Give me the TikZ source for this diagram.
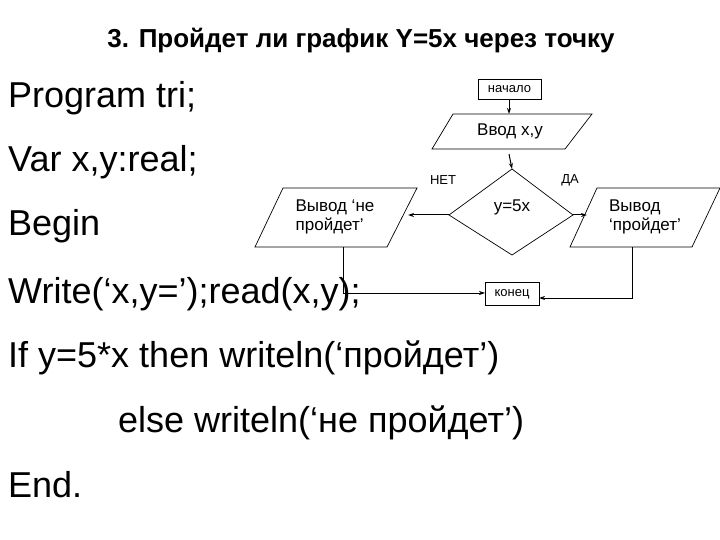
\documentclass[tikz,border=0pt]{standalone}
\usepackage{fontspec}
\setmainfont{Liberation Sans}
\usetikzlibrary{arrows.meta}
\begin{document}
\begin{tikzpicture}[x=1pt,y=-1pt,
  code/.style={anchor=base west,inner sep=0pt,font=\fontsize{36}{38}\selectfont},
  lbl/.style={inner sep=0pt,align=left,font=\fontsize{17}{19}\selectfont},
  sm/.style={inner sep=0pt,font=\fontsize{13}{15}\selectfont},
  box/.style={draw,line width=0.7pt},
  arr/.style={-{Stealth[length=6pt,width=4pt]},line width=1pt},
  ln/.style={line width=0.7pt}]
\useasboundingbox (0,0) rectangle (720,540);
\node[anchor=base,inner sep=0pt,font=\fontsize{26}{28}\selectfont\bfseries] (title) at (361,48) {3. Пройдет ли график Y=5x через точку};
\node[code] (c1) at (8,108) {Program tri;};
\node[code] (c2) at (8,172) {Var x,y:real;};
\node[code] (c3) at (8,236) {Begin};
\node[code] (c4) at (8,303) {Write(‘x,y=’);read(x,y);};
\node[code] (c5) at (8,367) {If y=5*x then writeln(‘пройдет’)};
\node[code] (c6) at (118,432) {else writeln(‘не пройдет’)};
\node[code] (c7) at (8,497) {End.};
% start
\draw[box] (478,79) rectangle (541,99);
\node[sm] (start) at (509.5,89) {начало};
\coordinate (startb) at (509,99);
% input
\draw[box] (453,114) -- (592,114) -- (565,149) -- (432,149) -- cycle;
\node[lbl] (inp) at (510,131) {Ввод x,y};
\coordinate (inpt) at (509,114);
\coordinate (inpb2) at (509,154);
% decision
\draw[box] (512,169) -- (573,215) -- (512,255) -- (449,215) -- cycle;
\coordinate (dt) at (512,169);
\coordinate (dl) at (449,215);
\coordinate (dr) at (573,215);
\node[lbl] (dec) at (512,207) {y=5x};
\node[sm] (no) at (443,180) {НЕТ};
\node[sm] (yes) at (570,180) {ДА};
% left output
\draw[box] (283,188) -- (417,188) -- (387,247) -- (255,247) -- cycle;
\node[lbl] (outno) at (335,217) {Вывод ‘не\\пройдет’};
\coordinate (lpr) at (408,215);
% right output
\draw[box] (597,188) -- (720,188) -- (692,247) -- (570,247) -- cycle;
\node[lbl] (outyes) at (645,217) {Вывод\\‘пройдет’};
\coordinate (rpl) at (587,215);
% end
\draw[box] (485,282) rectangle (539,305);
\node[sm] (stop) at (512,294) {конец};
\coordinate (el) at (485,293);
\coordinate (er) at (539,298);
\coordinate (lb) at (343,247);
\coordinate (rb) at (632,247);
% connectors
\draw[arr] (startb) -- (inpt);
\draw[arr] (inpb2) -- (dt);
\draw[arr] (dl) -- (lpr);
\draw[arr] (dr) -- (rpl);
\draw[ln,-{Stealth[length=6pt,width=4pt]}] (lb) |- (el);
\draw[arr] (rb) |- (er);
\end{tikzpicture}
\end{document}
